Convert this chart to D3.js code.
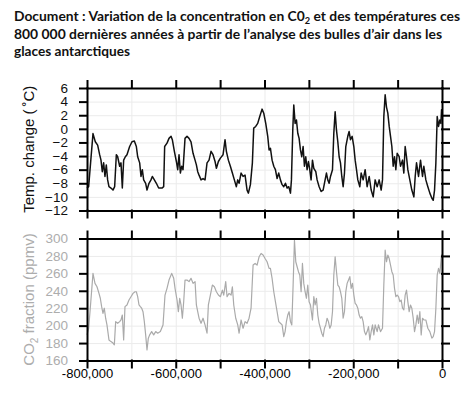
<!DOCTYPE html>
<html lang="fr">
<head>
<meta charset="utf-8" />
<title>CO2 et températures, 800 000 ans</title>
<script src="https://d3js.org/d3.v7.min.js"></script>
<style>
  body { margin: 0; background: #fff; }
  .title { font-family: Lato, "Open Sans", sans-serif; font-weight: bold; font-size: 13.5px; fill: #111; }
  .axis text { font-family: "Liberation Sans", Arial, sans-serif; }
  .frame path, .frame line { stroke: #000; stroke-width: 2; stroke-linecap: square; }
  .grid line { stroke: #ebebeb; stroke-width: 1; }
  .grid path { display: none; }
</style>
</head>
<body>
<div id="chart"></div>
<script>
// ---- data (years relative to present) ----
var tempYears = [-800000,-796300,-786500,-781300,-776000,-771500,-768500,-765500,-762500,-759500,
  -756500,-753500,-750500,-746000,-741400,-737700,-733900,-730900,-726400,-723400,
  -720400,-717400,-713600,-709900,-703900,-698600,-693300,-688800,-685800,-681300,
  -678300,-675300,-672300,-667800,-664800,-660300,-655800,-652800,-648200,-643700,
  -638500,-631000,-627200,-625000,-619700,-615200,-610600,-607700,-603100,-598600,
  -595600,-592600,-589600,-586600,-583600,-579100,-574600,-570100,-565600,-561000,
  -556500,-553500,-550500,-547500,-543000,-538500,-534000,-529500,-525000,-520500,
  -516000,-511400,-508400,-503900,-499400,-493400,-488900,-485900,-481400,-476900,
  -472400,-467900,-463400,-460400,-457300,-452800,-448300,-443800,-439300,-436300,
  -431800,-427300,-424300,-419800,-415300,-410700,-405500,-401700,-397200,-392700,
  -389700,
  -386700,-382900,-379100,-375400,-371600,-367900,-364100,-360300,-356600,-352800,
  -349100,-345300,-341500,-339300,-336300,-334000,-331000,-328000,-325000,-322000,
  -319000,-316000,-313000,-310000,-307000,-304000,-301000,-298000,-295000,-291900,
  -288900,-284400,-281400,-276900,-272400,-267900,-263400,-260400,-257400,-254400,
  -251300,-246800,-243800,-240800,-237800,-234800,-231800,-228800,-225800,-222800,
  -219800,-216800,-212300,-209300,-206300,-202500,-198700,-195700,-192700,-189700,
  -185200,-182200,-177700,-173200,-168700,-164100,-159600,-155100,-150600,-146100,
  -141600,-137100,-134100,-131100,-128100,-125100,-122100,-119000,-116000,-113000,
  -110000,-107000,-104000,-101000,-96500,-93500,-89000,-86000,-83000,-80000,
  -77000,-72500,-68000,-63400,-60400,-57400,-52900,-48400,-43900,-40900,
  -36400,-31900,-27400,-22800,-19800,-16800,-13800,-10800,-7800,-4800,
  -2500,-1000,0];

var tempValues = [-8.7,-8.5,-0.7,-1.9,-2.4,-3.8,-4.6,-6.3,-5.0,-7.0,
  -5.3,-7.5,-8.5,-8.7,-9.0,-8.5,-3.8,-4.1,-5.5,-5.0,
  -8.7,-4.6,-4.1,-3.8,-2.6,-1.9,-1.8,-2.6,-4.1,-5.0,
  -7.0,-6.0,-7.5,-8.0,-9.0,-8.0,-7.5,-7.0,-7.5,-8.0,
  -8.7,-8.7,-8.5,-2.6,-2.1,-1.4,-1.1,-1.6,-3.3,-4.8,
  -6.0,-3.8,-6.5,-5.5,-6.0,-1.4,-1.1,-1.4,-1.9,-3.6,
  -4.6,-5.3,-6.3,-6.8,-7.5,-7.3,-7.5,-5.0,-4.6,-3.3,
  -3.8,-4.8,-5.8,-4.8,-4.3,-3.8,-1.6,-3.3,-4.6,-5.5,
  -6.5,-7.5,-8.5,-7.5,-8.0,-6.5,-7.0,-6.8,-9.0,-9.45,
  -8.2,-5.0,0.1,0.35,0.8,1.8,2.9,2.3,0.8,-1.1,
  -3.1,
  -2.85,-4.6,-5.5,-6.0,-7.3,-6.5,-7.5,-8.2,-8.5,-8.0,
  -8.7,-8.5,-9.45,-7.5,-0.2,3.5,0.8,1.3,-0.65,-1.4,
  -3.1,-4.1,-2.6,-5.5,-4.1,-6.0,-4.8,-6.0,-7.5,-4.6,
  -5.8,-6.3,-7.5,-8.5,-9.2,-9.0,-7.5,-6.5,-7.5,-8.0,
  -7.0,-6.0,-0.65,2.5,-0.2,-1.9,-4.1,-5.0,-7.0,-8.5,
  -6.5,-2.6,-1.1,-0.4,-1.6,-1.1,-2.6,-4.6,-6.0,-7.5,
  -8.5,-6.5,-7.5,-6.0,-8.5,-7.0,-9.0,-10.0,-7.5,-8.5,
  -7.5,-9.0,-7.5,1.8,5.0,3.2,2.3,0.35,-1.1,-2.6,
  -5.5,-4.1,-6.0,-3.6,-4.1,-5.5,-4.6,-6.5,-2.6,-4.1,
  -6.0,-7.5,-9.0,-10.0,-7.0,-5.0,-7.0,-4.6,-7.0,-5.5,
  -7.5,-8.5,-9.45,-10.2,-10.5,-9.0,-5.0,1.8,0.35,1.3,
  0.8,2.8,2.5];

var co2Years = [-800000,-796300,-792600,-786500,-782000,-777500,-773000,-770000,-767000,-764000,
  -761000,-758000,-755000,-750500,-746000,-741400,-738400,-735400,-730900,-726400,
  -723400,-720400,-717400,-714400,-709900,-705400,-700900,-696300,-691800,-688800,
  -685800,-682800,-679800,-676800,-673800,-670800,-667800,-664800,-661800,-658800,
  -654300,-649700,-645200,-640700,-634700,-628700,-624200,-619700,-615200,-609100,
  -604600,-601600,-597100,-594100,-591100,-588100,-585100,-582100,-579100,-574600,
  -570100,-565600,-561000,-556500,-553500,-550500,-547500,-543000,-538500,-534000,
  -529500,-526500,-522000,-517500,-512900,-508400,-503900,-499400,-494900,-491900,
  -487400,-484400,-479900,-475300,-472400,-469300,-464800,-460300,-457300,-452800,
  -448300,-443800,-439300,-434800,-430300,-425700,-421200,-416700,-412200,-407700,
  -403200,-398700,-394200,-389700,
  -386700,-382900,-379100,-375400,-371600,-367900,-364100,-360300,-356600,-353600,
  -350600,-347600,-344600,-341500,-338500,-335500,-332500,-329500,-326500,-323500,
  -320500,-317500,-314500,-311500,-308500,-305500,-302500,-299500,-296400,-291900,
  -288900,-285900,-282900,-279900,-276900,-273900,-270900,-267900,-264900,-261900,
  -258900,-255900,-252800,-249800,-246800,-243800,-240800,-237800,-234800,-231800,
  -228800,-225800,-222800,-219800,-216800,-213800,-210700,-207700,-204700,-201700,
  -198700,-195700,-192700,-189700,-186700,-183700,-180700,-177700,-174700,-171700,
  -168700,-165600,-162600,-159600,-156600,-153600,-150600,-146100,-143100,-138600,
  -134100,-131100,-128100,-125100,-122100,-119000,-116000,-113000,-110000,-107000,
  -104000,-101000,-98000,-95000,-92000,-89000,-86000,-83000,-80000,-77000,
  -74000,-71000,-68000,-64900,-61900,-58900,-55900,-52900,-49900,-46900,
  -43900,-40900,-36400,-31900,-27400,-22800,-19800,-16800,-13800,-10800,
  -7800,-4800,-2500,-1000,0];

var co2Values = [189.4,197,220,260,248.5,244.6,237,231.4,221.8,214,
  220,208.5,200.8,183.6,181.7,180,178,204.6,202.7,204.6,
  206.5,212.2,183.6,221.8,223.7,229.4,233.2,237,238.9,238.9,
  233.2,223.7,221.8,220,216,204.6,189.4,172.2,185.6,189.4,
  193.2,189.4,193.2,191.3,193.2,200.8,235.1,242.8,252.3,260,
  254.3,242.8,229.4,216,231.4,223.7,208.5,227.5,252.3,252.3,
  250.5,254.3,248.5,250.5,223.7,216,208.5,202.7,208.5,200.8,
  191.3,223.7,235.1,246.6,244.6,238.9,235.1,233.2,240.8,235.1,
  250.5,233.2,237,235.1,244.6,223.7,208.5,200.8,191.3,206.5,
  197,204.6,202.7,208.5,220,269.5,271.4,269.5,279,282.8,
  281,277,273.3,265.7,
  265.7,254.3,238.9,227.5,216,204.6,202.7,200.8,187.4,193.2,
  204.6,212.2,216,204.6,200.8,246.6,298,273.3,267.6,261.9,
  258.1,238.9,271.4,248.5,238.9,231.4,246.6,227.5,223.7,206.5,
  233.2,223.7,231.4,212.2,202.7,197,191.3,187.4,197,200.8,
  208.5,204.6,197,200.8,216,258.1,279,261.9,246.6,244.6,
  238.9,231.4,208.5,216,238.9,248.5,252.3,256.2,242.8,248.5,
  235.1,225.6,223.7,220,212.2,208.5,210.3,204.6,193.2,189.4,
  193.2,198.9,183.6,193.2,200.8,189.4,200.8,193.2,200.8,193.2,
  197,246.6,286.6,273.3,281,277,269.5,261.9,258.1,242.8,
  233.2,235.1,233.2,227.5,229.4,220,218.1,235.1,240.8,227.5,
  216,223.7,220,208.5,193.2,200.8,212.2,202.7,216,189.4,
  208.5,206.5,206.5,197,193.2,185.6,187.4,193.2,220,258.1,
  265.7,260,273.3,281,282];

var xTicks = [-800000,-700000,-600000,-500000,-400000,-300000,-200000,-100000,0];
var xLabelTicks = [-800000,-600000,-400000,-200000,0];
var tempTicks = [6,4,2,0,-2,-4,-6,-8,-10,-12];
var co2Ticks = [300,280,260,240,220,200,180,160];

(function(d3) {
  'use strict';

  var width = 474, height = 394;
  var left = 87, right = 442;
  var top1 = 88, bottom1 = 210.5;
  var top2 = 238.5, bottom2 = 360.5;
  var tick = 7;

  var svg = d3.select('#chart').append('svg')
    .attr('width', width).attr('height', height);

  // title
  var title = svg.append('g').attr('class', 'title');
  var l1 = title.append('text').attr('x', 14).attr('y', 21)
    .attr('textLength', 446).attr('lengthAdjust', 'spacingAndGlyphs');
  l1.append('tspan').text('Document : Variation de la concentration en C0');
  l1.append('tspan').attr('font-size', '9px').attr('dy', 3).text('2');
  l1.append('tspan').attr('dy', -3).text(' et des températures ces');
  title.append('text').attr('x', 14).attr('y', 38.5)
    .attr('textLength', 428).attr('lengthAdjust', 'spacingAndGlyphs')
    .text('800 000 dernières années à partir de l\u2019analyse des bulles d\u2019air dans les');
  title.append('text').attr('x', 14).attr('y', 56)
    .attr('textLength', 116).attr('lengthAdjust', 'spacingAndGlyphs')
    .text('glaces antarctiques');

  var x = d3.scaleLinear().domain([-800000, 0]).range([left, right]);
  var yTemp = d3.scaleLinear().domain([-12, 6]).range([bottom1, top1]);
  var yCo2 = d3.scaleLinear().domain([160, 300]).range([bottom2, top2]);

  var fmtX = d3.formatLocale({decimal: '.', thousands: ',', grouping: [3], currency: ['', ''], minus: '-'}).format(',');

  function panel(y, yTicks, yTop, yBottom, opts) {
    var g = svg.append('g');

    // faint grid
    g.append('g').attr('class', 'grid')
      .attr('transform', 'translate(0,' + yBottom + ')')
      .call(d3.axisBottom(x).tickValues(xTicks).tickSize(-(yBottom - yTop)).tickFormat(''));
    g.append('g').attr('class', 'grid')
      .attr('transform', 'translate(' + left + ',0)')
      .call(d3.axisLeft(y).tickValues(yTicks).tickSize(-(right - left)).tickFormat(''));

    // data line
    var pts = d3.zip(opts.years, opts.values);
    g.append('path')
      .datum(pts)
      .attr('fill', 'none')
      .attr('stroke', opts.color)
      .attr('stroke-width', opts.lineWidth)
      .attr('stroke-linejoin', 'round')
      .attr('d', d3.line().x(function(d) { return x(d[0]); }).y(function(d) { return y(d[1]); }));

    // frame with outward ticks on all sides
    g.append('g').attr('class', 'axis frame')
      .attr('transform', 'translate(0,' + yTop + ')')
      .call(d3.axisTop(x).tickValues(xTicks).tickSize(tick).tickSizeOuter(0).tickFormat(''));
    var bx = g.append('g').attr('class', 'axis frame')
      .attr('transform', 'translate(0,' + yBottom + ')')
      .call(d3.axisBottom(x).tickValues(xTicks).tickSize(tick).tickSizeOuter(0).tickPadding(1)
        .tickFormat(function(d) { return opts.xLabels && xLabelTicks.indexOf(d) >= 0 ? fmtX(d) : ''; }));
    bx.selectAll('text').attr('font-size', '13px').attr('fill', '#000');
    g.append('g').attr('class', 'axis frame')
      .attr('transform', 'translate(' + right + ',0)')
      .call(d3.axisRight(y).tickValues(yTicks).tickSize(tick).tickSizeOuter(0).tickFormat(''));
    var ly = g.append('g').attr('class', 'axis frame')
      .attr('transform', 'translate(' + left + ',0)')
      .call(d3.axisLeft(y).tickValues(yTicks).tickSize(tick).tickSizeOuter(0).tickPadding(12));
    ly.selectAll('text').attr('font-size', '13.5px').attr('fill', opts.labelColor);

    // axis title
    var t = g.append('text')
      .attr('transform', 'translate(34,' + ((yTop + yBottom) / 2) + ') rotate(-90)')
      .attr('text-anchor', 'middle')
      .attr('font-family', '"Liberation Sans", Arial, sans-serif')
      .attr('font-size', '15px')
      .attr('fill', opts.labelColor);
    opts.title(t);
  }

  panel(yTemp, tempTicks, top1, bottom1, {
    years: tempYears, values: tempValues, color: '#111', lineWidth: 1.5,
    labelColor: '#111', xLabels: false,
    title: function(t) { t.text('Temp. change (\u2009\u02DAC)'); }
  });

  panel(yCo2, co2Ticks, top2, bottom2, {
    years: co2Years, values: co2Values, color: '#aaa', lineWidth: 1.2,
    labelColor: '#adadad', xLabels: true,
    title: function(t) {
      t.append('tspan').text('CO');
      t.append('tspan').attr('font-size', '10px').attr('dy', 4).text('2');
      t.append('tspan').attr('dy', -4).text(' fraction (ppmv)');
    }
  });
})(window.d3);
</script>
</body>
</html>
